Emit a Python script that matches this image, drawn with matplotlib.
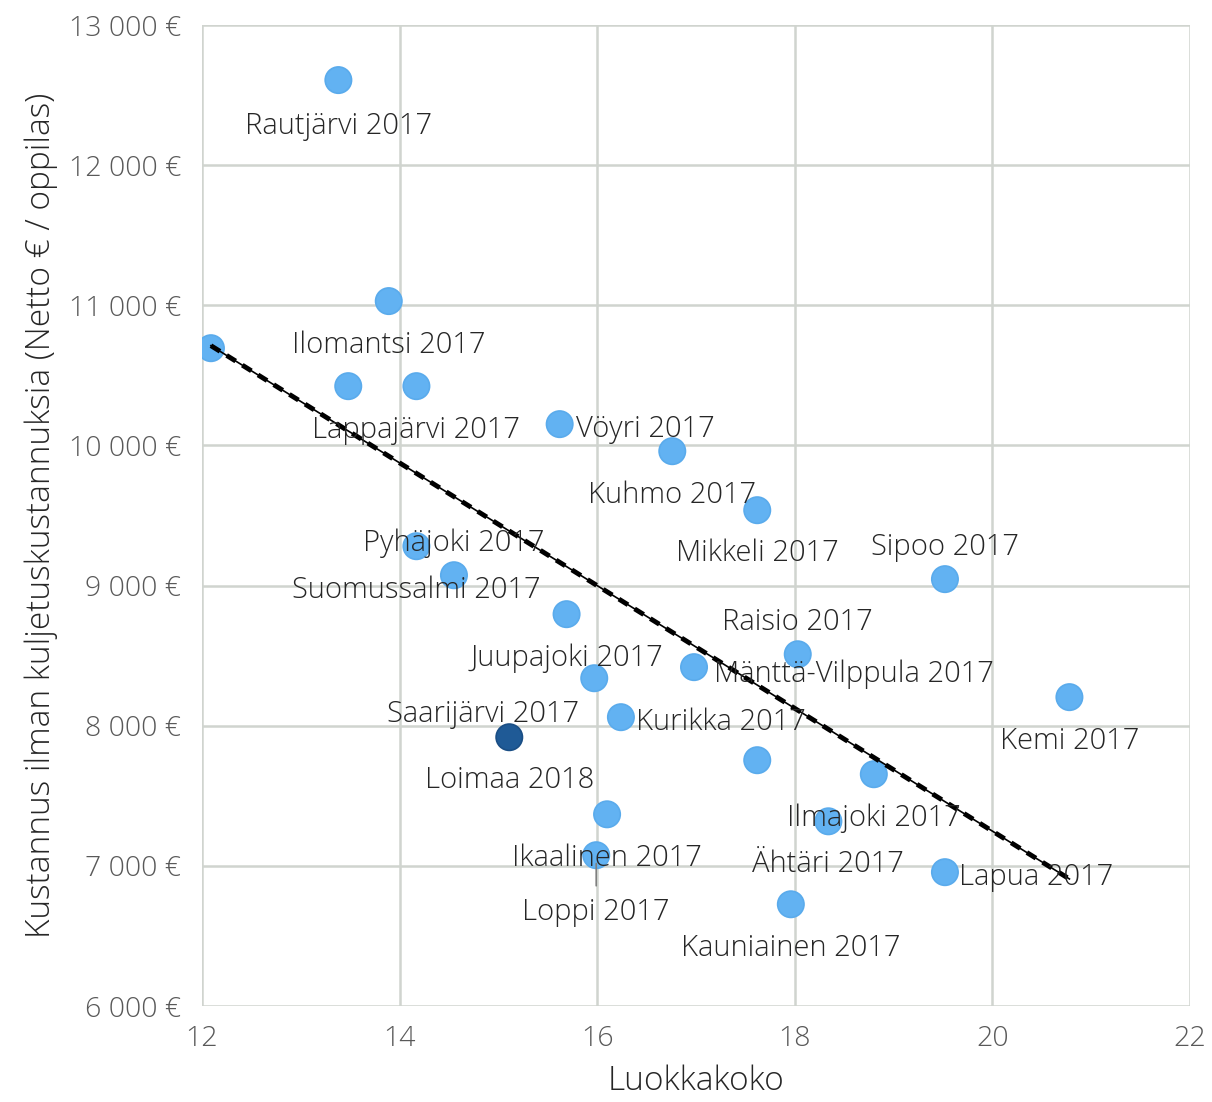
import numpy as np
import matplotlib
matplotlib.use("Agg")
import matplotlib.pyplot as plt
from matplotlib.ticker import FuncFormatter

plt.rcParams['font.family'] = ['Open Sans', 'DejaVu Sans']
plt.rcParams['font.weight'] = 'light'
plt.rcParams['axes.labelweight'] = 'light'

# luokkakoko (x) and kustannus (y)
class_size = [13.38, 13.89, 12.09, 13.48, 14.17, 15.62, 16.76, 17.62, 14.17, 14.55,
              19.52, 15.69, 18.03, 16.98, 15.97, 20.78, 16.24, 15.11, 17.62, 18.80,
              16.10, 18.34, 15.99, 19.52, 17.96]
cost = [12607, 11030, 10694, 10423, 10423, 10152, 9959, 9538, 9281, 9074,
        9046, 8796, 8510, 8418, 8339, 8204, 8061, 7918, 7754, 7654,
        7368, 7318, 7076, 6955, 6726]
names = ["Rautjärvi 2017", "Ilomantsi 2017", "", "", "Lappajärvi 2017", "Vöyri 2017",
         "Kuhmo 2017", "Mikkeli 2017", "Suomussalmi 2017", "Pyhäjoki 2017",
         "Sipoo 2017", "Juupajoki 2017", "Raisio 2017", "Mänttä-Vilppula 2017",
         "Saarijärvi 2017", "Kemi 2017", "Kurikka 2017", "Loimaa 2018", "",
         "Ilmajoki 2017", "Ikaalinen 2017", "Ähtäri 2017", "Loppi 2017",
         "Lapua 2017", "Kauniainen 2017"]
highlight = "Loimaa 2018"

# label offsets in points (dx, dy) relative to the marker
label_offsets = {
    "Rautjärvi 2017": (0, -33), "Ilomantsi 2017": (0, -32), "Lappajärvi 2017": (0, -32),
    "Vöyri 2017": (62, -4), "Kuhmo 2017": (0, -32), "Mikkeli 2017": (0, -31),
    "Suomussalmi 2017": (0, -32), "Pyhäjoki 2017": (0, 23), "Sipoo 2017": (0, 23),
    "Juupajoki 2017": (0, -32), "Raisio 2017": (0, 23), "Mänttä-Vilppula 2017": (115, -5),
    "Saarijärvi 2017": (-80, -26), "Kemi 2017": (0, -32), "Kurikka 2017": (72, -4),
    "Loimaa 2018": (0, -31), "Ilmajoki 2017": (0, -32), "Ikaalinen 2017": (0, -32),
    "Ähtäri 2017": (0, -31), "Loppi 2017": (0, -41), "Lapua 2017": (66, -4),
    "Kauniainen 2017": (0, -32),
}

fig = plt.figure(figsize=(12.12, 11.02), dpi=100)
ax = fig.add_axes([0.1667, 0.0871, 0.8151, 0.8902])

light = "#62B2F2"
dark = "#1F5A96"
colors = [dark if n == highlight else light for n in names]
edges = ["#1A4E85" if n == highlight else "#5AABEC" for n in names]
ax.scatter(class_size, cost, s=360, c=colors, edgecolors=edges, linewidths=1.2, zorder=3)

# linear trend line
k, b = np.polyfit(class_size, cost, 1)
xs = np.array([min(class_size), max(class_size)])
ax.plot(xs, k * xs + b, color="black", lw=1.2, zorder=4)
ax.plot(xs, k * xs + b, color="black", lw=3.5, ls=(0, (2.2, 1.6)), zorder=4)

for x, y, n in zip(class_size, cost, names):
    if not n:
        continue
    dx, dy = label_offsets[n]
    if n == "Loppi 2017":
        ax.annotate("", xy=(x, y), xytext=(0, -22), textcoords="offset points",
                    arrowprops=dict(arrowstyle="-", color="#7F7F7F", lw=1.2,
                                    shrinkA=0, shrinkB=6), zorder=5)
    ax.annotate(n, (x, y), xytext=(dx, dy), textcoords="offset points",
                ha="center", va="center", fontsize=21, color="#262626",
                fontweight="light", zorder=5)

ax.set_xlim(12, 22)
ax.set_ylim(6000, 13000)
ax.set_xticks(range(12, 23, 2))
ax.set_yticks(range(6000, 13001, 1000))
ax.yaxis.set_major_formatter(FuncFormatter(lambda v, p: f"{int(v):,} €".replace(",", " ")))
ax.grid(True, color="#D0D4CF", lw=1.8)
ax.set_axisbelow(True)
for s in ax.spines.values():
    s.set_visible(False)
ax.tick_params(length=0, labelsize=20.5, labelcolor="#595959", pad=15)
ax.tick_params(axis="x", pad=14)

ax.set_xlabel("Luokkakoko", fontsize=24, color="#262626", labelpad=8)
ax.set_ylabel("Kustannus ilman kuljetuskustannuksia (Netto € / oppilas)",
              fontsize=24, color="#262626", labelpad=8)

fig.savefig("out.png", dpi=100)
